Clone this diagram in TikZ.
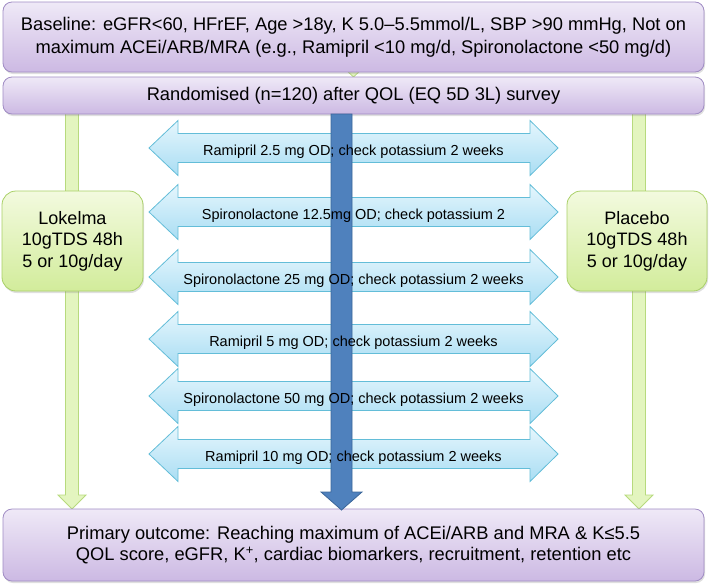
\documentclass[tikz,border=0pt]{standalone}
\usepackage{fontspec}
\setmainfont{Liberation Sans}
\usetikzlibrary{shadows}
\definecolor{purpTop}{HTML}{EFE9F7}
\definecolor{purpBot}{HTML}{CCB9E3}
\definecolor{purpLine}{HTML}{A08CC4}
\definecolor{grnTop}{HTML}{F3FADF}
\definecolor{grnBot}{HTML}{D2EC9B}
\definecolor{grnLine}{HTML}{A9D067}
\definecolor{grnArr}{HTML}{E3F5BF}
\definecolor{grnArrLine}{HTML}{B7DA7D}
\definecolor{cyTop}{HTML}{E5F6FD}
\definecolor{cyBot}{HTML}{A9DDF3}
\definecolor{cyLine}{HTML}{63BDD8}
\definecolor{bluFill}{HTML}{4F81BD}
\definecolor{bluLine}{HTML}{3B6699}
\tikzset{
  purplebox/.style={draw=purpLine, line width=0.8pt, rounded corners=9pt, top color=purpTop, bottom color=purpBot,
    drop shadow={opacity=0.25, shadow xshift=1pt, shadow yshift=-2pt}, align=center, inner sep=0pt,
    font=\fontsize{18.3}{23}\selectfont},
  greenbox/.style={draw=grnLine, line width=0.8pt, rounded corners=14pt, top color=grnTop, bottom color=grnBot,
    drop shadow={opacity=0.25, shadow xshift=1pt, shadow yshift=-2pt}, align=center, inner sep=0pt,
    minimum width=141pt, minimum height=100pt, font=\fontsize{18}{21.5}\selectfont},
  greenarrow/.style={draw=grnArrLine, line width=0.8pt, fill=grnArr},
  cyanarrow/.style={draw=cyLine, line width=0.8pt, top color=cyTop, bottom color=cyBot},
  bluearrow/.style={draw=bluLine, line width=0.8pt, fill=bluFill},
  arrtext/.style={font=\fontsize{14.5}{17}\selectfont, inner sep=0pt, anchor=base}
}
\begin{document}
\begin{tikzpicture}[x=1pt,y=-1pt]
\useasboundingbox (0,0) rectangle (709,587);
% hidden green connector between the two top boxes
\coordinate (ca) at (353.5,60);
\draw[greenarrow] (350,60) -- (357,60) -- (357,68) -- (363,68) -- (353.5,77) -- (344,68) -- (350,68) -- cycle;
% green side arrows
\coordinate (lx) at (72,0);
\coordinate (rx) at (639,0);
\foreach \cx in {72,639}{
  \draw[greenarrow] (\cx-6.5,112) -- (\cx+6.5,112) -- (\cx+6.5,495) -- (\cx+14,495) -- (\cx,509) -- (\cx-14,495) -- (\cx-6.5,495) -- cycle;
}
% boxes
\node[purplebox, minimum width=701pt, minimum height=70pt] (base) at (353.5,37)
  {Baseline: eGFR<60, HFrEF, Age >18y, K 5.0–5.5mmol/L, SBP >90 mmHg, Not on\\
   maximum ACEi/ARB/MRA (e.g., Ramipril <10 mg/d, Spironolactone <50 mg/d)};
\node[purplebox, minimum width=701pt, minimum height=37pt] (rand) at (353.5,95.5)
  {Randomised (n=120) after QOL (EQ 5D 3L) survey};
\node[purplebox, minimum width=701pt, minimum height=72pt, font=\fontsize{18.3}{21}\selectfont] (out) at (353.5,545)
  {Primary outcome: Reaching maximum of ACEi/ARB and MRA \& K≤5.5\\
   QOL score, eGFR, K\textsuperscript{+}, cardiac biomarkers, recruitment, retention etc};
\node[greenbox] (lok) at (72.5,241) {Lokelma\\10gTDS 48h\\5 or 10g/day};
\node[greenbox, minimum width=140pt] (plac) at (637,241) {Placebo\\10gTDS 48h\\5 or 10g/day};
% double arrows
\foreach \c in {148,212,277,339,396,454}{
  \draw[cyanarrow] (149,\c) -- (178,\c-27.5) -- (178,\c-14.5) -- (530,\c-14.5) -- (530,\c-27.5) -- (558,\c)
    -- (530,\c+27.5) -- (530,\c+14.5) -- (178,\c+14.5) -- (178,\c+27.5) -- cycle;
}
% central blue arrow
\draw[bluearrow] (331,114) -- (352,114) -- (352,492) -- (362,492) -- (341.5,510) -- (321,492) -- (331,492) -- cycle;
% arrow texts (descenders clipped as in the reference)
\foreach \c/\t/\nm in {148/{Ramipril 2.5 mg OD; check potassium 2 weeks}/t1,
                       212/{Spironolactone 12.5mg OD; check potassium 2}/t2,
                       277/{Spironolactone 25 mg OD; check potassium 2 weeks}/t3,
                       339/{Ramipril 5 mg OD; check potassium 2 weeks}/t4,
                       396/{Spironolactone 50 mg OD; check potassium 2 weeks}/t5,
                       454/{Ramipril 10 mg OD; check potassium 2 weeks}/t6}{
  \begin{scope}
    \clip (150,\c-30) rectangle (557,\c+9);
    \node[arrtext] (\nm) at (353.5,\c+7) {\t};
  \end{scope}
}
\end{tikzpicture}
\end{document}
